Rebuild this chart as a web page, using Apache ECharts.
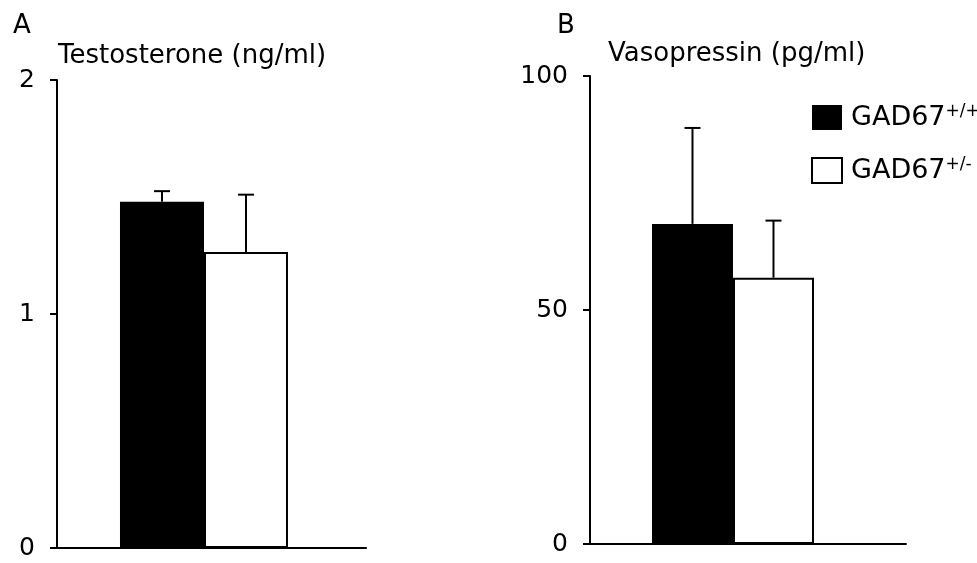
<!DOCTYPE html>
<html>
<head>
<meta charset="utf-8">
<script src="https://cdn.jsdelivr.net/npm/echarts@6/dist/echarts.min.js"></script>
<style>html,body{margin:0;padding:0;background:#fff}#chart{width:977px;height:563px}</style>
</head>
<body>
<div id="chart"></div>
<script>
// data
var seriesNames = ['GAD67+/+', 'GAD67+/-'];
var panelLetters = ['A', 'B'];
var panelTitles = ['Testosterone (ng/ml)', 'Vasopressin (pg/ml)'];
var testosteroneMean = [1.48, 1.265];
var testosteroneErr = [0.045, 0.245];
var vasopressinMean = [68.4, 56.9];
var vasopressinErr = [20.5, 12.2];
var testosteroneTicks = [0, 1, 2];
var vasopressinTicks = [0, 50, 100];

var font = 'DejaVu Sans';
var means = [testosteroneMean, vasopressinMean];
var errs = [testosteroneErr, vasopressinErr];
var ticks = [testosteroneTicks, vasopressinTicks];

// layout per panel
var grids = [
    {left: 57, top: 80, width: 309, height: 468},
    {left: 590, top: 76, width: 316, height: 468}
];
var barWidths = [84, 81];
var groupPos = [0.4757, 0.4525]; // where the bar pair sits along the x axis

function errorBars(w) {
    return function (params, api) {
        var k = api.value(3);
        var c = api.coord([api.value(0), api.value(1)]);
        var t = api.coord([api.value(0), api.value(1) + api.value(2)]);
        var x = c[0] + (k - 0.5) * w;
        var st = {stroke: '#000', lineWidth: 2};
        return {
            type: 'group',
            children: [
                {type: 'line', shape: {x1: x, y1: c[1], x2: x, y2: t[1]}, style: st},
                {type: 'line', shape: {x1: x - 8, y1: t[1], x2: x + 8, y2: t[1]}, style: st}
            ]
        };
    };
}

var xAxes = [], yAxes = [], series = [];
for (var p = 0; p < 2; p++) {
    var tk = ticks[p];
    xAxes.push({
        type: 'value',
        gridIndex: p,
        min: -groupPos[p],
        max: 1 - groupPos[p],
        axisLine: {lineStyle: {color: '#000', width: 2}},
        axisTick: {show: false},
        axisLabel: {show: false},
        splitLine: {show: false}
    });
    yAxes.push({
        type: 'value',
        gridIndex: p,
        min: tk[0],
        max: tk[tk.length - 1],
        interval: tk[1] - tk[0],
        axisLine: {show: true, onZero: false, lineStyle: {color: '#000', width: 2}},
        axisTick: {show: true, length: 7, lineStyle: {color: '#000', width: 2}},
        axisLabel: {color: '#000', fontSize: 25, fontFamily: font, margin: 22, padding: [8, 0, 0, 0]},
        splitLine: {show: false}
    });
    for (var s = 0; s < 2; s++) {
        series.push({
            name: seriesNames[s],
            type: 'bar',
            xAxisIndex: p,
            yAxisIndex: p,
            barWidth: barWidths[p],
            barGap: 0,
            data: [[0, means[p][s]]],
            itemStyle: s === 0 ? {color: '#000'} : {color: '#fff', borderColor: '#000', borderWidth: 2}
        });
    }
    series.push({
        type: 'custom',
        xAxisIndex: p,
        yAxisIndex: p,
        z: 5,
        renderItem: errorBars(barWidths[p]),
        data: [[0, means[p][0], errs[p][0], 0], [0, means[p][1], errs[p][1], 1]]
    });
}

var titleStyle = {color: '#000', fontSize: 26, fontWeight: 'normal', fontFamily: font};
var option = {
    animation: false,
    backgroundColor: '#fff',
    title: [
        {text: panelLetters[0], left: 13, top: 13, padding: 0, textStyle: titleStyle},
        {text: panelTitles[0], left: 58, top: 43, padding: 0, textStyle: titleStyle},
        {text: panelLetters[1], left: 557, top: 13, padding: 0, textStyle: titleStyle},
        {text: panelTitles[1], left: 608, top: 41, padding: 0, textStyle: titleStyle}
    ],
    legend: {
        data: seriesNames,
        orient: 'vertical',
        left: 811,
        top: 103,
        padding: 0,
        itemWidth: 30,
        itemHeight: 25,
        itemGap: 25,
        icon: 'rect',
        formatter: function (name) {
            return '{m|GAD67}{s|' + name.slice(5) + '}';
        },
        textStyle: {
            color: '#000',
            padding: [0, 0, 0, 4],
            rich: {
                m: {fontSize: 27, fontFamily: font, color: '#000'},
                s: {fontSize: 17, fontFamily: font, color: '#000', padding: [0, 0, 12, 0]}
            }
        }
    },
    grid: grids,
    xAxis: xAxes,
    yAxis: yAxes,
    series: series
};

var myChart = echarts.init(document.getElementById('chart'));
myChart.setOption(option);
</script>
</body>
</html>
